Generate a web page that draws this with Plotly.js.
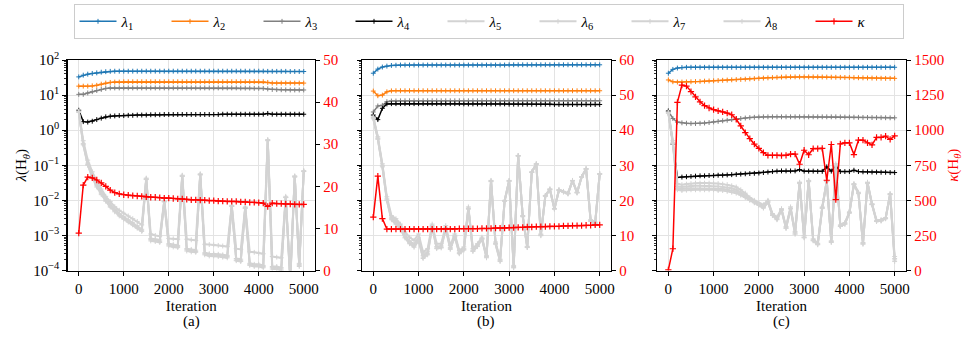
<!DOCTYPE html>
<html>
<head>
<meta charset="utf-8">
<script src="https://cdn.plot.ly/plotly-3.0.1.min.js"></script>
<style>
  html, body { margin: 0; padding: 0; background: #fff; }
  #chart { width: 977px; height: 340px; }
</style>
</head>
<body>
<div id="chart"></div>
<script>
var iters = [0, 100, 200, 300, 400, 500, 600, 700, 800, 900,
  1000, 1100, 1200, 1300, 1400, 1500, 1600, 1700, 1800, 1900,
  2000, 2100, 2200, 2300, 2400, 2500, 2600, 2700, 2800, 2900,
  3000, 3100, 3200, 3300, 3400, 3500, 3600, 3700, 3800, 3900,
  4000, 4100, 4200, 4300, 4400, 4500, 4600, 4700, 4800, 4900,
  5000];

var xTicks = [0, 1000, 2000, 3000, 4000, 5000];
var logTicks = [1e-4, 1e-3, 1e-2, 1e-1, 1, 10, 100];
var logTickText = ['10<sup>−4</sup>', '10<sup>−3</sup>', '10<sup>−2</sup>', '10<sup>−1</sup>',
  '10<sup>0</sup>', '10<sup>1</sup>', '10<sup>2</sup>'];
var panelLabels = ['(a)', '(b)', '(c)'];

// ---- panel (a) ----
var aL1 = [33, 37, 39.5, 41.5, 43, 45, 46.5, 47.5, 48, 48,
  48, 48, 48, 48, 48, 48, 48, 48, 48, 48,
  48, 48, 48, 48, 48, 48, 48, 48, 48, 48,
  48, 48, 48, 48, 48, 48, 48, 48, 48, 48,
  48, 48, 47.5, 47.5, 47.5, 47.5, 47.5, 47, 47, 47,
  47];
var aL2 = [18, 18, 18, 18.3, 19, 20.5, 22, 23, 23.5, 23.5,
  24, 24, 24, 24, 24, 24, 24, 24, 24, 24,
  24, 24, 24, 24, 24, 24, 24, 24, 24, 24,
  24, 24, 24, 24, 24, 24, 24, 24, 24, 24,
  24, 24, 23, 22, 22, 22, 22, 22, 22, 22,
  22];
var aL3 = [10.5, 10.5, 11.5, 12.5, 13.5, 14.5, 15.5, 16, 16, 16,
  16, 16, 16, 16, 16, 16, 16, 16, 16, 16,
  16, 16, 16, 16, 16, 16, 16, 16, 16, 16,
  16, 16, 16, 16, 16, 16, 15.8, 15.8, 15.8, 15.6,
  15.6, 15.5, 15, 14.5, 14.3, 14.2, 14.1, 14, 14, 14,
  14];
var aL4 = [3.7, 1.75, 1.7, 1.8, 2.0, 2.2, 2.4, 2.5, 2.55, 2.6,
  2.6, 2.65, 2.65, 2.7, 2.7, 2.7, 2.75, 2.75, 2.75, 2.8,
  2.8, 2.8, 2.8, 2.8, 2.8, 2.8, 2.8, 2.8, 2.8, 2.8,
  2.8, 2.8, 2.85, 2.85, 2.85, 2.85, 2.85, 2.85, 2.85, 2.85,
  2.85, 2.85, 3.0, 2.85, 2.85, 2.85, 2.85, 2.85, 2.85, 2.85,
  2.85];
var aL5 = [3.5, 0.5, 0.14, 0.065, 0.035, 0.021, 0.013, 0.0092, 0.0066, 0.0052,
  0.0043, 0.0036, 0.003, 0.0025, 0.002, 0.043, 0.0011, 0.001, 0.00095, 0.0098,
  0.00082, 0.0008, 0.00078, 0.052, 0.00078, 0.00075, 0.00072, 0.057, 0.00056, 0.00055,
  0.00054, 0.00052, 0.0005, 0.00048, 0.0072, 0.00042, 0.0004, 0.0065, 0.00034, 0.00033,
  0.00031, 0.0003, 0.54, 0.00025, 0.00024, 0.00023, 0.013, 0.00007, 0.05, 0.00016,
  0.07];
var aL6 = [3.4, 0.42, 0.115, 0.052, 0.028, 0.017, 0.011, 0.0075, 0.0055, 0.0042,
  0.0034, 0.0028, 0.0023, 0.0019, 0.0015, 0.041, 0.00082, 0.00078, 0.00074, 0.0094,
  0.00058, 0.00055, 0.00052, 0.05, 0.00042, 0.0004, 0.00038, 0.055, 0.00032, 0.0003,
  0.0003, 0.00029, 0.00028, 0.00027, 0.0069, 0.00022, 0.00021, 0.0062, 0.00016, 0.00015,
  0.00015, 0.00014, 0.52, 0.00013, 0.00013, 0.00012, 0.012, 0.00006, 0.048, 0.00015,
  0.068];
var aL7 = [3.3, 0.4, 0.105, 0.048, 0.026, 0.0155, 0.01, 0.0068, 0.005, 0.0039,
  0.0031, 0.0026, 0.0021, 0.0017, 0.0014, 0.04, 0.00076, 0.00072, 0.00068, 0.0092,
  0.00054, 0.00051, 0.00048, 0.049, 0.00039, 0.00037, 0.00035, 0.054, 0.0003, 0.00028,
  0.00028, 0.00027, 0.00026, 0.00025, 0.0068, 0.0002, 0.00019, 0.006, 0.00015, 0.00014,
  0.00014, 0.00013, 0.51, 0.00012, 0.00012, 0.00011, 0.012, 0.00005, 0.047, 0.00014,
  0.067];
var aL8 = [3.2, 0.38, 0.1, 0.045, 0.024, 0.0145, 0.0094, 0.0064, 0.0047, 0.0036,
  0.0029, 0.0024, 0.002, 0.0016, 0.0013, 0.039, 0.0007, 0.00067, 0.00063, 0.009,
  0.0005, 0.00047, 0.00045, 0.048, 0.00036, 0.00034, 0.00033, 0.053, 0.00028, 0.00026,
  0.00026, 0.00025, 0.00024, 0.00023, 0.0067, 0.00019, 0.00018, 0.0059, 0.00014, 0.00013,
  0.00013, 0.00012, 0.5, 0.00011, 0.00011, 0.0001, 0.012, 0.00005, 0.046, 0.00013,
  0.066];
var aKappa = [8.9, 20.3, 22.2, 22.0, 21.5, 20.8, 20.0, 19.1, 18.5, 18.2,
  18.0, 17.9, 17.8, 17.7, 17.6, 17.5, 17.4, 17.4, 17.3, 17.2,
  17.2, 17.1, 17.0, 17.0, 16.9, 16.8, 16.8, 16.7, 16.7, 16.6,
  16.6, 16.5, 16.5, 16.4, 16.4, 16.4, 16.3, 16.3, 16.2, 16.2,
  16.1, 16.0, 15.2, 16.0, 15.9, 15.9, 15.8, 15.8, 15.7, 15.7,
  15.7];

// ---- panel (b) ----
var bL1 = [42, 55, 63, 67, 70, 71, 72, 72, 72, 72,
  72, 72, 72, 72, 72, 72, 72, 72, 72, 72,
  72, 72, 72, 72, 72, 72, 72, 72, 72, 72,
  73, 73, 73, 73, 73, 73, 73, 73, 73, 73,
  73, 73, 73, 73, 73, 73, 73, 73, 73, 73,
  73];
var bL2 = [13, 9.6, 10, 12.4, 13.2, 13.3, 13.3, 13.3, 13.3, 13.3,
  13.3, 13.3, 13.3, 13.3, 13.3, 13.3, 13.3, 13.3, 13.3, 13.3,
  13.3, 13.3, 13.3, 13.3, 13.3, 13.3, 13.3, 13.3, 13.3, 13.3,
  13.3, 13.3, 13.3, 13.3, 13.3, 13.3, 13.3, 13.3, 13.3, 13.3,
  13.3, 13.3, 13.3, 13.3, 13.3, 13.3, 13.3, 13.3, 13.3, 13.3,
  13.3];
var bL3 = [3.3, 4.9, 5.1, 6.5, 6.8, 6.8, 6.9, 6.9, 6.9, 6.9,
  6.9, 6.9, 6.9, 6.9, 6.9, 6.9, 6.9, 6.9, 6.9, 6.9,
  6.9, 6.9, 6.9, 6.9, 6.9, 6.9, 6.9, 6.9, 6.9, 6.9,
  6.9, 6.9, 6.9, 6.9, 6.9, 6.9, 6.9, 6.9, 6.9, 6.9,
  6.9, 6.9, 6.9, 6.9, 6.9, 6.9, 6.9, 6.9, 6.9, 6.9,
  6.9];
var bL4 = [2.7, 2.0, 4.2, 5.6, 5.7, 5.7, 5.7, 5.7, 5.7, 5.7,
  5.7, 5.7, 5.7, 5.7, 5.7, 5.7, 5.7, 5.7, 5.7, 5.7,
  5.6, 5.6, 5.6, 5.6, 5.6, 5.6, 5.6, 5.6, 5.6, 5.6,
  5.5, 5.5, 5.5, 5.5, 5.5, 5.5, 5.5, 5.5, 5.5, 5.5,
  5.4, 5.4, 5.4, 5.4, 5.4, 5.4, 5.4, 5.4, 5.4, 5.4,
  5.4];
var bL5 = [2.4, 0.65, 0.11, 0.0126, 0.0037, 0.003, 0.0021, 0.00126, 0.00089, 0.00072,
  0.0011, 0.00033, 0.00042, 0.0021, 0.00058, 0.00058, 0.0019, 0.00052, 0.0011, 0.00037,
  0.00047, 0.0065, 0.00042, 0.00058, 0.00089, 0.00027, 0.037, 0.00065, 0.00021, 0.01,
  0.037, 0.00014, 0.19, 0.0037, 0.00049, 0.065, 0.11, 0.0011, 0.0138, 0.021,
  0.0059, 0.02, 0.018, 0.016, 0.037, 0.017, 0.047, 0.08, 0.0028, 0.0024,
  0.058];
var bL6 = [2.3, 0.6, 0.1, 0.011, 0.0033, 0.0026, 0.0018, 0.001, 0.0007, 0.00056,
  0.00085, 0.00027, 0.00034, 0.0019, 0.00048, 0.0005, 0.0017, 0.00045, 0.001, 0.00033,
  0.00042, 0.006, 0.00038, 0.00053, 0.00082, 0.00025, 0.036, 0.0006, 0.0002, 0.0098,
  0.036, 0.00013, 0.19, 0.0036, 0.00047, 0.064, 0.11, 0.00105, 0.0135, 0.021,
  0.0058, 0.0198, 0.0178, 0.0158, 0.0365, 0.0168, 0.0465, 0.079, 0.0027, 0.0023,
  0.057];
var bL7 = [2.2, 0.57, 0.095, 0.0102, 0.003, 0.0023, 0.0016, 0.0009, 0.00062, 0.0005,
  0.00075, 0.00024, 0.0003, 0.0018, 0.00044, 0.00046, 0.0016, 0.00042, 0.00095, 0.00031,
  0.0004, 0.0058, 0.00036, 0.0005, 0.0008, 0.00024, 0.035, 0.00058, 0.00019, 0.0096,
  0.0355, 0.00012, 0.185, 0.0035, 0.00046, 0.063, 0.108, 0.001, 0.0133, 0.0205,
  0.0057, 0.0195, 0.0175, 0.0155, 0.036, 0.0165, 0.046, 0.078, 0.0026, 0.0022,
  0.056];
var bL8 = [2.1, 0.55, 0.09, 0.0098, 0.0028, 0.0021, 0.0015, 0.00085, 0.00058, 0.00046,
  0.0007, 0.00022, 0.00028, 0.0017, 0.00042, 0.00044, 0.0015, 0.0004, 0.0009, 0.0003,
  0.00038, 0.0056, 0.00035, 0.00048, 0.00078, 0.00023, 0.034, 0.00056, 0.00018, 0.0094,
  0.035, 0.00012, 0.18, 0.0034, 0.00045, 0.062, 0.106, 0.00098, 0.013, 0.02,
  0.0056, 0.0192, 0.0172, 0.0152, 0.0355, 0.0162, 0.0455, 0.077, 0.0025, 0.0021,
  0.055];
var bKappa = [15.2, 26.9, 14.8, 11.8, 11.8, 11.8, 11.8, 11.8, 11.8, 11.8,
  11.8, 11.8, 11.8, 11.8, 11.8, 11.8, 11.8, 11.8, 11.8, 11.9,
  11.9, 11.9, 11.9, 11.9, 12.0, 12.0, 12.0, 12.1, 12.1, 12.1,
  12.2, 12.2, 12.3, 12.3, 12.4, 12.4, 12.5, 12.5, 12.5, 12.6,
  12.6, 12.6, 12.7, 12.7, 12.8, 12.8, 12.8, 12.9, 12.9, 13.0,
  13.0];

// ---- panel (c) ----
var cL1 = [42, 54, 59, 61, 62, 62, 62, 62, 62, 62,
  62, 62, 62, 62, 62, 62, 62, 62, 62, 62,
  62, 62, 62, 62, 62, 62, 62, 62, 62, 62,
  62, 62, 62, 62, 62, 62, 62, 62, 62, 62,
  62, 62, 62, 62, 62, 62, 62, 62, 62, 62,
  62];
var cL2 = [27, 24, 23.5, 23.5, 23.7, 24, 24.3, 24.6, 25, 25.3,
  25.6, 26, 26.4, 26.8, 27.2, 27.6, 28, 28.5, 29, 29.5,
  30, 30.5, 31, 31.5, 32, 32.5, 33, 33, 33, 33,
  33, 33, 33, 33, 32.8, 32.6, 32.4, 32.2, 32, 31.8,
  31.6, 31.4, 31.2, 31, 30.8, 30.6, 30.4, 30.2, 30, 30,
  30];
var cL3 = [3.5, 2.15, 1.7, 1.62, 1.58, 1.55, 1.55, 1.57, 1.6, 1.65,
  1.72, 1.78, 1.85, 1.92, 2.0, 2.08, 2.15, 2.22, 2.28, 2.33,
  2.37, 2.4, 2.4, 2.4, 2.4, 2.4, 2.4, 2.4, 2.4, 2.4,
  2.4, 2.4, 2.4, 2.4, 2.4, 2.4, 2.4, 2.4, 2.38, 2.36,
  2.35, 2.34, 2.32, 2.31, 2.3, 2.29, 2.28, 2.27, 2.26, 2.25,
  2.25];
var cL4 = [3.5, 0.4, 0.045, 0.046, 0.047, 0.048, 0.049, 0.05, 0.05, 0.051,
  0.051, 0.052, 0.052, 0.053, 0.054, 0.055, 0.056, 0.057, 0.058, 0.059,
  0.06, 0.062, 0.064, 0.066, 0.068, 0.069, 0.069, 0.069, 0.069, 0.075,
  0.068, 0.068, 0.068, 0.067, 0.067, 0.09, 0.068, 0.095, 0.066, 0.066,
  0.066, 0.072, 0.066, 0.065, 0.065, 0.064, 0.064, 0.063, 0.063, 0.062,
  0.062];
var cL5 = [3.3, 0.5, 0.03, 0.028, 0.029, 0.03, 0.031, 0.031, 0.031, 0.031,
  0.03, 0.03, 0.029, 0.028, 0.026, 0.024, 0.02, 0.016, 0.012, 0.01,
  0.0085, 0.0075, 0.01, 0.0042, 0.0033, 0.0058, 0.0018, 0.0065, 0.0013, 0.033,
  0.001, 0.037, 0.0008, 0.0006, 0.0065, 0.037, 0.0007, 0.11, 0.002, 0.0023,
  0.0047, 0.03, 0.017, 0.00063, 0.033, 0.008, 0.0027, 0.0028, 0.0032, 0.0155,
  0.00025];
var cL6 = [3.2, 0.45, 0.025, 0.024, 0.025, 0.026, 0.026, 0.026, 0.026, 0.026,
  0.025, 0.025, 0.024, 0.023, 0.022, 0.02, 0.017, 0.014, 0.011, 0.0092,
  0.008, 0.0065, 0.0095, 0.004, 0.003, 0.0055, 0.0017, 0.006, 0.0012, 0.032,
  0.0009, 0.036, 0.00075, 0.00058, 0.0062, 0.036, 0.00068, 0.1, 0.0019, 0.0022,
  0.0045, 0.029, 0.016, 0.0006, 0.032, 0.0078, 0.0026, 0.0027, 0.0031, 0.015,
  0.00022];
var cL7 = [3.1, 0.42, 0.022, 0.021, 0.022, 0.022, 0.022, 0.022, 0.022, 0.022,
  0.022, 0.021, 0.021, 0.02, 0.019, 0.018, 0.015, 0.013, 0.0105, 0.0088,
  0.0075, 0.0062, 0.009, 0.0038, 0.0029, 0.0053, 0.0016, 0.0058, 0.0011, 0.031,
  0.00088, 0.035, 0.00072, 0.00055, 0.006, 0.035, 0.00065, 0.1, 0.0018, 0.0021,
  0.0044, 0.028, 0.016, 0.00058, 0.031, 0.0076, 0.0025, 0.0026, 0.003, 0.015,
  0.0002];
var cL8 = [3.0, 0.4, 0.02, 0.019, 0.0195, 0.02, 0.02, 0.02, 0.02, 0.02,
  0.02, 0.019, 0.019, 0.018, 0.017, 0.016, 0.014, 0.012, 0.01, 0.0085,
  0.0072, 0.006, 0.0088, 0.0037, 0.0028, 0.0052, 0.0016, 0.0057, 0.0011, 0.03,
  0.00085, 0.034, 0.0007, 0.00054, 0.0059, 0.034, 0.00063, 0.095, 0.0018, 0.0021,
  0.0043, 0.028, 0.0155, 0.00056, 0.03, 0.0075, 0.0025, 0.0026, 0.003, 0.0145,
  0.00018];
var cKappa = [5, 155, 1198, 1321, 1314, 1274, 1238, 1202, 1175, 1158,
  1146, 1138, 1131, 1122, 1110, 1078, 1030, 982, 940, 900,
  870, 840, 821, 821, 821, 819, 821, 829, 830, 757,
  857, 825, 869, 869, 871, 643, 898, 505, 902, 910,
  910, 826, 929, 929, 910, 895, 948, 948, 957, 935,
  960];

var seriesNames = ['<i>λ</i><sub>1</sub>', '<i>λ</i><sub>2</sub>', '<i>λ</i><sub>3</sub>', '<i>λ</i><sub>4</sub>',
  '<i>λ</i><sub>5</sub>', '<i>λ</i><sub>6</sub>', '<i>λ</i><sub>7</sub>', '<i>λ</i><sub>8</sub>'];
var kappaName = '<i>κ</i>';
var lamColors = ['#1f77b4', '#ff7f0e', '#808080', '#000000', '#d3d3d3', '#d3d3d3', '#d3d3d3', '#d3d3d3'];
var red = '#ff0000';

function panelTraces(lams, kappa, n) {
  var xa = n === 1 ? 'x' : 'x' + n;
  var yl = n === 1 ? 'y' : 'y' + (2 * n - 1);
  var yr = 'y' + (2 * n);
  var out = lams.map(function (vals, i) {
    return {
      x: iters, y: vals, xaxis: xa, yaxis: yl,
      type: 'scatter', mode: 'lines+markers',
      name: seriesNames[i], showlegend: n === 1,
      line: {color: lamColors[i], width: i > 3 ? 2 : 1.5},
      marker: {symbol: 'cross-thin', size: 3.5, color: lamColors[i],
               line: {color: lamColors[i], width: 1}}
    };
  });
  out.push({
    x: iters, y: kappa, xaxis: xa, yaxis: yr,
    type: 'scatter', mode: 'lines+markers',
    name: kappaName, showlegend: n === 1,
    line: {color: red, width: 1.5},
    marker: {symbol: 'cross-thin', size: 4.5, color: red, line: {color: red, width: 1.2}}
  });
  return out;
}

var data = []
  .concat(panelTraces([aL1, aL2, aL3, aL4, aL5, aL6, aL7, aL8], aKappa, 1))
  .concat(panelTraces([bL1, bL2, bL3, bL4, bL5, bL6, bL7, bL8], bKappa, 2))
  .concat(panelTraces([cL1, cL2, cL3, cL4, cL5, cL6, cL7, cL8], cKappa, 3));

// minor tick positions for the log axis (2..9 within each decade)
var minorVals = [];
for (var e = -4; e < 2; e++) {
  for (var m = 2; m < 10; m++) minorVals.push(m * Math.pow(10, e));
}

var FONT = 'Liberation Serif';
var GRID = '#e3e3e3';
var yDom = [0.2044, 0.8235];
var xDoms = [[0.0691, 0.3224], [0.3705, 0.6254], [0.6725, 0.9273]];

function xAxis(dom, anchor) {
  return {
    domain: dom, anchor: anchor, range: [-250, 5250],
    tickmode: 'array', tickvals: xTicks,
    ticks: 'outside', ticklen: 4, tickwidth: 1, tickcolor: '#000',
    showline: true, mirror: true, linecolor: '#000', linewidth: 1.2,
    showgrid: true, gridcolor: GRID, gridwidth: 1, zeroline: false,
    tickfont: {family: FONT, size: 15},
    title: {text: 'Iteration', standoff: 4, font: {family: FONT, size: 15}},
    automargin: false
  };
}

function logAxis(anchor, labels) {
  return {
    type: 'log', domain: yDom, anchor: anchor, range: [-4, 2],
    tickmode: 'array', tickvals: logTicks, ticktext: logTickText,
    showticklabels: labels,
    ticks: 'outside', ticklen: 4, tickwidth: 1, tickcolor: '#000',
    minor: {tickmode: 'array', tickvals: minorVals, ticks: 'outside', ticklen: 2,
            tickwidth: 0.8, tickcolor: '#000', showgrid: false},
    showline: true, linecolor: '#000', linewidth: 1.2,
    showgrid: true, gridcolor: GRID, gridwidth: 1, zeroline: false,
    tickfont: {family: FONT, size: 15},
    automargin: false
  };
}

function rightAxis(over, anchor, top, step) {
  return {
    overlaying: over, anchor: anchor, side: 'right',
    range: [0, top], dtick: step, tick0: 0,
    ticks: 'outside', ticklen: 4, tickwidth: 1, tickcolor: '#000',
    showline: true, linecolor: '#000', linewidth: 1.2,
    showgrid: false, zeroline: false,
    tickfont: {family: FONT, size: 15, color: red},
    automargin: false
  };
}

var yA = logAxis('x', true);
yA.title = {text: '<i>λ</i>(H<sub><i>θ</i></sub>)', standoff: 2, font: {family: FONT, size: 15}};
var yC2 = rightAxis('y5', 'x3', 1500, 250);
yC2.title = {text: '<i>κ</i>(H<sub><i>θ</i></sub>)', standoff: 4, font: {family: FONT, size: 15, color: red}};

var layout = {
  width: 977, height: 340,
  margin: {l: 0, r: 0, t: 0, b: 0},
  paper_bgcolor: '#fff', plot_bgcolor: 'rgba(0,0,0,0)',
  font: {family: FONT, size: 15, color: '#000'},
  showlegend: true,
  legend: {
    orientation: 'h', x: 0.5, xanchor: 'center', y: 0.988, yanchor: 'top',
    bordercolor: '#cccccc', borderwidth: 1, bgcolor: '#fff',
    itemwidth: 37, entrywidth: 40, entrywidthmode: 'pixels',
    font: {family: FONT, size: 15}, tracegroupgap: 0
  },
  xaxis: xAxis(xDoms[0], 'y'),
  xaxis2: xAxis(xDoms[1], 'y3'),
  xaxis3: xAxis(xDoms[2], 'y5'),
  yaxis: yA,
  yaxis2: rightAxis('y', 'x', 50, 10),
  yaxis3: logAxis('x2', false),
  yaxis4: rightAxis('y3', 'x2', 60, 10),
  yaxis5: logAxis('x3', false),
  yaxis6: yC2,
  annotations: panelLabels.map(function (t, i) {
    return {
      text: t, xref: 'paper', yref: 'paper',
      x: (xDoms[i][0] + xDoms[i][1]) / 2, y: 0.053,
      xanchor: 'center', yanchor: 'middle', showarrow: false,
      font: {family: FONT, size: 15}
    };
  })
};

Plotly.newPlot('chart', data, layout, {displayModeBar: false, staticPlot: true});
</script>
</body>
</html>
